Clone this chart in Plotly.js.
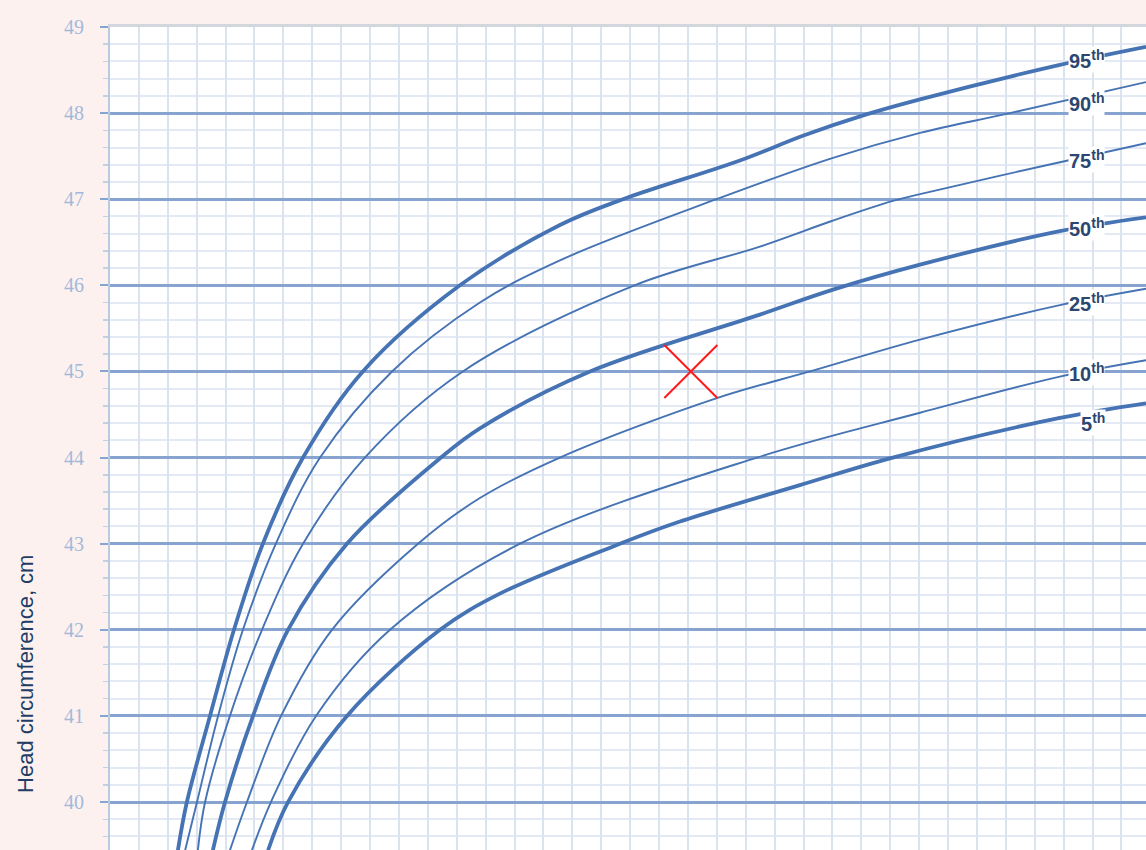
<!DOCTYPE html>
<html>
<head>
<meta charset="utf-8">
<script src="https://cdn.plot.ly/plotly-3.0.1.min.js"></script>
<style>html,body{margin:0;padding:0;background:#fdf1ef;}</style>
</head>
<body>
<div id="chart" style="width:1146px;height:850px;"></div>
<script>
// Age axis in chart grid units (one unit = one minor vertical grid cell)
const p95x = [2.35, 2.66, 3.46, 4.29, 5.29, 6.68, 8.75, 12.11, 15.57, 17.75, 21.80, 24.00, 26.12, 28.03, 32.87, 35.85];
const p95y = [39.44, 40, 41, 42, 43, 44, 45, 46, 46.70, 47, 47.45, 47.74, 47.98, 48.16, 48.56, 48.77];

const p90x = [2.60, 3.01, 3.74, 4.60, 5.74, 7.27, 9.76, 12.80, 15.57, 20.99, 25.02, 28.03, 31.14, 35.85];
const p90y = [39.44, 40, 41, 42, 43, 44, 45, 45.80, 46.29, 47, 47.48, 47.77, 48, 48.36];

const p75x = [3.04, 3.29, 4.15, 5.26, 6.68, 8.82, 12.21, 18.15, 22.49, 25.00, 27.09, 28.03, 32.87, 35.85];
const p75y = [39.44, 40, 41, 42, 43, 44, 45, 46, 46.45, 46.75, 46.98, 47.06, 47.43, 47.65];

const p50x = [3.56, 3.98, 4.95, 6.16, 8.20, 11.45, 12.80, 16.61, 22.49, 25.02, 28.03, 32.87, 35.85];
const p50y = [39.44, 40, 41, 42, 43, 44, 44.34, 45, 45.66, 45.95, 46.24, 46.63, 46.79];

const p25x = [4.15, 4.74, 5.92, 7.68, 10.66, 12.80, 15.57, 21.00, 24.22, 28.03, 32.87, 35.85];
const p25y = [39.44, 40, 41, 42, 43, 43.53, 44, 44.69, 45, 45.37, 45.77, 45.96];

const p10x = [4.91, 5.57, 7.13, 9.69, 14.19, 22.39, 28.03, 32.87, 35.85];
const p10y = [39.44, 40, 41, 42, 43, 44, 44.52, 44.94, 45.13];

const p5x = [5.47, 6.16, 8.20, 11.42, 13.49, 17.65, 19.57, 23.87, 27.09, 32.87, 35.85];
const p5y = [39.44, 40, 41, 42, 42.42, 43, 43.24, 43.68, 44, 44.46, 44.63];

const curveNames = ["95", "90", "75", "50", "25", "10", "5"];
const curveX = [p95x, p90x, p75x, p50x, p25x, p10x, p5x];
const curveY = [p95y, p90y, p75y, p50y, p25y, p10y, p5y];
const thick = [true, false, false, true, false, false, true];

// Plotted measurement (red cross)
const markX = [20.10];
const markY = [45.0];

const yTicks = [40, 41, 42, 43, 44, 45, 46, 47, 48, 49];

const lineColor = "#4673b3";
const traces = curveNames.map((n, i) => ({
  type: "scatter", mode: "lines", name: n + "th",
  x: curveX[i], y: curveY[i],
  line: {color: lineColor, width: thick[i] ? 3.8 : 1.9, shape: "spline", smoothing: 1.0},
  hoverinfo: "skip", showlegend: false
}));
traces.push({
  type: "scatter", mode: "markers", x: markX, y: markY,
  marker: {symbol: "x-thin", size: 53, color: "#ff1a1a", line: {color: "#ff1a1a", width: 2}},
  showlegend: false, hoverinfo: "skip"
});

// label positions (x in grid units, y in cm)
const labelPos = [
  [33.78, 48.62], [33.78, 48.12], [33.78, 47.46], [33.78, 46.67],
  [33.78, 45.80], [33.78, 44.99], [34.0, 44.41]
];
const annotations = curveNames.map((n, i) => ({
  x: labelPos[i][0], y: labelPos[i][1], xref: "x", yref: "y",
  text: "<b>" + n + "<sup>th</sup></b>", showarrow: false,
  font: {family: "Liberation Sans", size: 20, color: "#2b4670"},
  bgcolor: "white", borderpad: 0, xanchor: "center", yanchor: "middle"
}));
annotations.push({
  xref: "paper", yref: "paper", x: -0.081, y: 0.214,
  text: "Head circumference, cm", textangle: -90, showarrow: false,
  font: {family: "Liberation Sans", size: 22, color: "#213d66"},
  xanchor: "center", yanchor: "middle"
});

const layout = {
  width: 1146, height: 850,
  margin: {l: 110, r: 0, t: 27, b: 0, pad: 0},
  paper_bgcolor: "#fdf1ef", plot_bgcolor: "#ffffff",
  xaxis: {
    range: [0, 35.85], tick0: 0, dtick: 1,
    showgrid: true, gridcolor: "#dbe3ef", gridwidth: 2,
    showticklabels: false, ticks: "", zeroline: false,
    showline: true, linecolor: "#d2d6dd", linewidth: 3, mirror: "allticks",
    layer: "below traces"
  },
  yaxis: {
    range: [39.443, 49], tickvals: yTicks, ticktext: yTicks.map(String),
    showgrid: true, gridcolor: "#86a4cf", gridwidth: 3,
    ticks: "outside", ticklen: 8, tickcolor: "#86a4cf", tickwidth: 2,
    ticklabelstandoff: 12,
    tickfont: {family: "Liberation Serif", size: 20, color: "#a2b9d9"},
    zeroline: false, showline: true, linecolor: "#b9cbe3", linewidth: 2,
    minor: {dtick: 0.2, tick0: 40, showgrid: true, gridcolor: "#e4eaf3", gridwidth: 2,
            ticks: "outside", ticklen: 5, tickcolor: "#c3d0e3", tickwidth: 1.5}
  },
  annotations: annotations
};

Plotly.newPlot("chart", traces, layout, {staticPlot: true, displayModeBar: false});
</script>
</body>
</html>
